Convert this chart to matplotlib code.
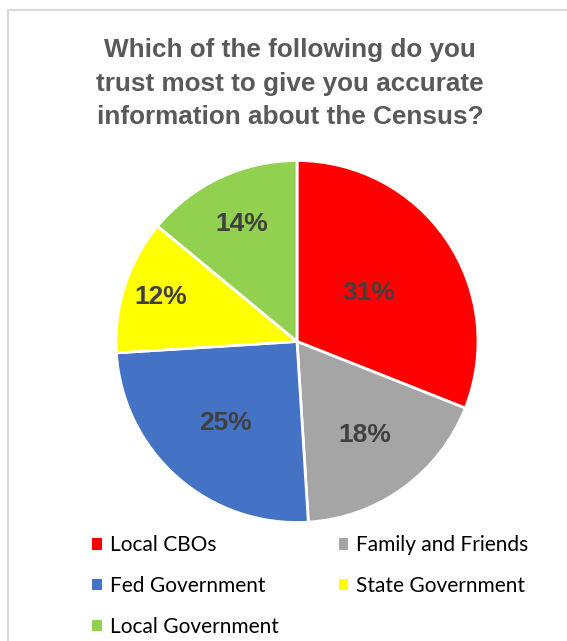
import matplotlib
matplotlib.use("Agg")
import matplotlib.pyplot as plt
from matplotlib.patches import Rectangle
import numpy as np

# data
categories = ["Local CBOs", "Family and Friends", "Fed Government",
              "State Government", "Local Government"]
shares = [31, 18, 25, 12, 14]
colors = ["#FF0000", "#A5A5A5", "#4472C4", "#FFFF00", "#92D050"]
label_dist = [0.48, 0.64, 0.60, 0.79, 0.72]

fig = plt.figure(figsize=(5.67, 6.41), dpi=100)
W, H = 567, 641

# chart frame (cut off at right/bottom in the reference)
fig.patches.append(Rectangle((8 / W, -0.1), 1.2, 1 - 10 / H + 0.1,
                             transform=fig.transFigure, fill=False,
                             edgecolor="#D9D9D9", linewidth=1.5))

fig.text(290 / W, 1 - 83.5 / H,
         "Which of the following do you\ntrust most to give you accurate\ninformation about the Census?",
         ha="center", va="center", fontsize=18.8, fontweight="bold",
         color="#595959", family="Liberation Sans", linespacing=1.52)

cx, cy, r = 297, 341.5, 181
ax = fig.add_axes([(cx - r) / W, (H - cy - r) / H, 2 * r / W, 2 * r / H])
wedges, texts, autotexts = ax.pie(shares, colors=colors, startangle=90,
                                  counterclock=False, autopct="%d%%",
                                  wedgeprops=dict(edgecolor="white", linewidth=2),
                                  textprops=dict(fontsize=19, fontweight="bold",
                                                 color="#404040",
                                                 family="Liberation Sans"))
for w, t, d in zip(wedges, autotexts, label_dist):
    ang = np.deg2rad((w.theta1 + w.theta2) / 2)
    t.set_position((d * np.cos(ang), d * np.sin(ang)))
ax.set_xlim(-1, 1)
ax.set_ylim(-1, 1)
ax.axis("off")

# legend filled row-wise like the original
order = [0, 2, 4, 1, 3]
leg = fig.legend([wedges[i] for i in order], [categories[i] for i in order],
                 ncol=2, loc="upper left", bbox_to_anchor=(82 / W, 1 - 525 / H),
                 frameon=False, borderpad=0, handlelength=0.45, handleheight=0.45,
                 handletextpad=0.38, columnspacing=2.9, labelspacing=1.0,
                 prop=dict(family="Lato", size=15))
for h in leg.legend_handles:
    h.set_edgecolor("none")

fig.savefig("out.png", dpi=100)
